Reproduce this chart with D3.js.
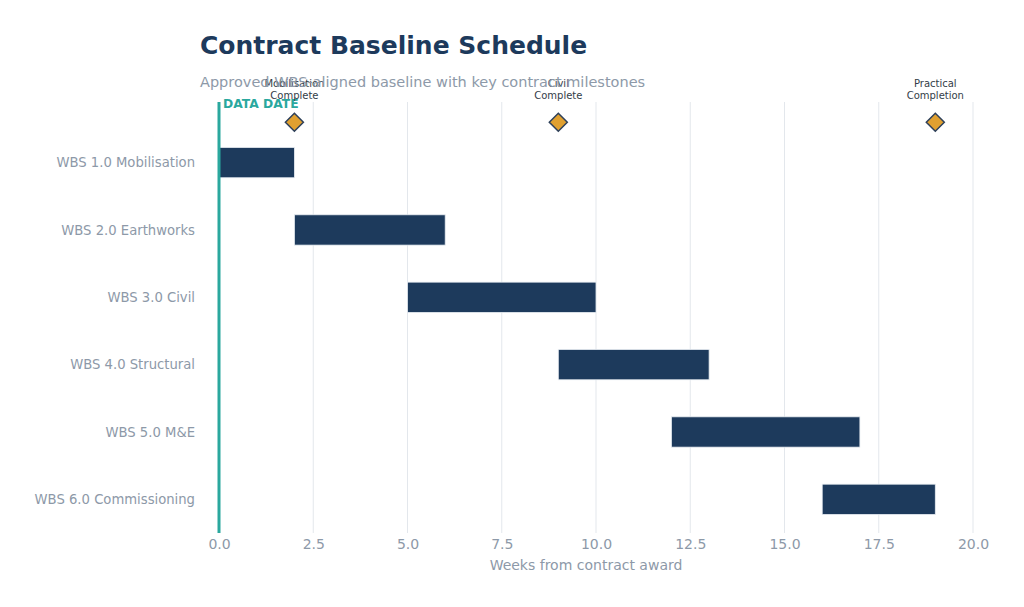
<!DOCTYPE html>
<html>
<head>
<meta charset="utf-8">
<script src="https://cdn.jsdelivr.net/npm/d3@7"></script>
<style>
  body { margin: 0; background: #fff; }
  svg { font-family: "DejaVu Sans", sans-serif; }
</style>
</head>
<body>
<svg id="chart" width="1024" height="607"></svg>
<script>
// baseline tasks (weeks from award)
var tasks = ["WBS 1.0 Mobilisation", "WBS 2.0 Earthworks", "WBS 3.0 Civil",
             "WBS 4.0 Structural", "WBS 5.0 M&E", "WBS 6.0 Commissioning"];
var taskStart = [0, 2, 5, 9, 12, 16];
var taskEnd = [2, 6, 10, 13, 17, 19];

var milestoneNames = [["Mobilisation", "Complete"], ["Civil", "Complete"], ["Practical", "Completion"]];
var milestoneWeeks = [2, 9, 19];

var xTicks = [0, 2.5, 5, 7.5, 10, 12.5, 15, 17.5, 20];
var dataDate = 0;

var svg = d3.select("#chart");

var xScale = d3.scaleLinear().domain([0, 20]).range([219, 973]);
// rows as numbers, milestone lane sits above row 0
var yScale = d3.scaleLinear().domain([-0.9, 5.5]).range([102, 533]);
var barH = yScale(0.45) - yScale(0);

/*** gridlines ***/
svg.append("g")
  .selectAll("line")
  .data(xTicks)
  .join("line")
  .attr("x1", (d) => xScale(d))
  .attr("x2", (d) => xScale(d))
  .attr("y1", yScale(-0.9))
  .attr("y2", yScale(5.5))
  .attr("stroke", "#e3e7ec")
  .attr("stroke-width", 1);

/*** x axis ***/
let xAxis = d3.axisBottom(xScale)
  .tickValues(xTicks)
  .tickSize(0)
  .tickPadding(6)
  .tickFormat(d3.format(".1f"));
let xg = svg.append("g")
  .attr("transform", "translate(0," + yScale(5.5) + ")")
  .call(xAxis);
xg.select(".domain").remove();
xg.selectAll("text")
  .attr("fill", "#8d99a8")
  .style("font-size", "14px")
  .style("font-family", "DejaVu Sans, sans-serif");

svg.append("text")
  .attr("x", 586)
  .attr("y", 570)
  .attr("text-anchor", "middle")
  .attr("fill", "#8d99a8")
  .style("font-size", "14px")
  .text("Weeks from contract award");

/*** y labels ***/
svg.append("g")
  .selectAll("text")
  .data(tasks)
  .join("text")
  .attr("x", 195)
  .attr("y", (d, i) => yScale(i))
  .attr("dy", "0.35em")
  .attr("text-anchor", "end")
  .attr("fill", "#8d99a8")
  .style("font-size", "13.2px")
  .text((d) => d);

/*** bars ***/
svg.append("g")
  .selectAll("rect")
  .data(tasks)
  .join("rect")
  .attr("x", (d, i) => xScale(taskStart[i]))
  .attr("y", (d, i) => yScale(i) - barH / 2)
  .attr("width", (d, i) => xScale(taskEnd[i]) - xScale(taskStart[i]))
  .attr("height", barH)
  .attr("fill", "#1d3a5c")
  .attr("stroke", "#e8edf2")
  .attr("stroke-width", 0.8);

/*** data date line ***/
svg.append("line")
  .attr("x1", xScale(dataDate))
  .attr("x2", xScale(dataDate))
  .attr("y1", yScale(-0.9))
  .attr("y2", yScale(5.5))
  .attr("stroke", "#2aa89e")
  .attr("stroke-width", 3);

svg.append("text")
  .attr("x", xScale(dataDate) + 4)
  .attr("y", 108)
  .attr("fill", "#2aa89e")
  .style("font-size", "12.3px")
  .style("font-weight", "bold")
  .text("DATA DATE");

/*** milestones ***/
let ms = svg.append("g")
  .selectAll("g")
  .data(milestoneWeeks)
  .join("g")
  .attr("transform", (d) => "translate(" + xScale(d) + "," + yScale(-0.6) + ")");

ms.append("path")
  .attr("d", "M0,-9 L9,0 L0,9 L-9,0 Z")
  .attr("fill", "#e0a030")
  .attr("stroke", "#2e405a")
  .attr("stroke-width", 1.5);

ms.each(function (d, i) {
  let t = d3.select(this).append("text")
    .attr("text-anchor", "middle")
    .attr("fill", "#333d48")
    .style("font-size", "10px");
  t.append("tspan").attr("x", 0).attr("y", -35).text(milestoneNames[i][0]);
  t.append("tspan").attr("x", 0).attr("y", -23).text(milestoneNames[i][1]);
});

/*** titles ***/
svg.append("text")
  .attr("x", 200)
  .attr("y", 54)
  .attr("fill", "#1d3a5c")
  .style("font-size", "25px")
  .style("font-weight", "bold")
  .text("Contract Baseline Schedule");

svg.append("text")
  .attr("x", 200)
  .attr("y", 87)
  .attr("fill", "#8d99a8")
  .style("font-size", "14.5px")
  .text("Approved WBS-aligned baseline with key contract milestones");
</script>
</body>
</html>
